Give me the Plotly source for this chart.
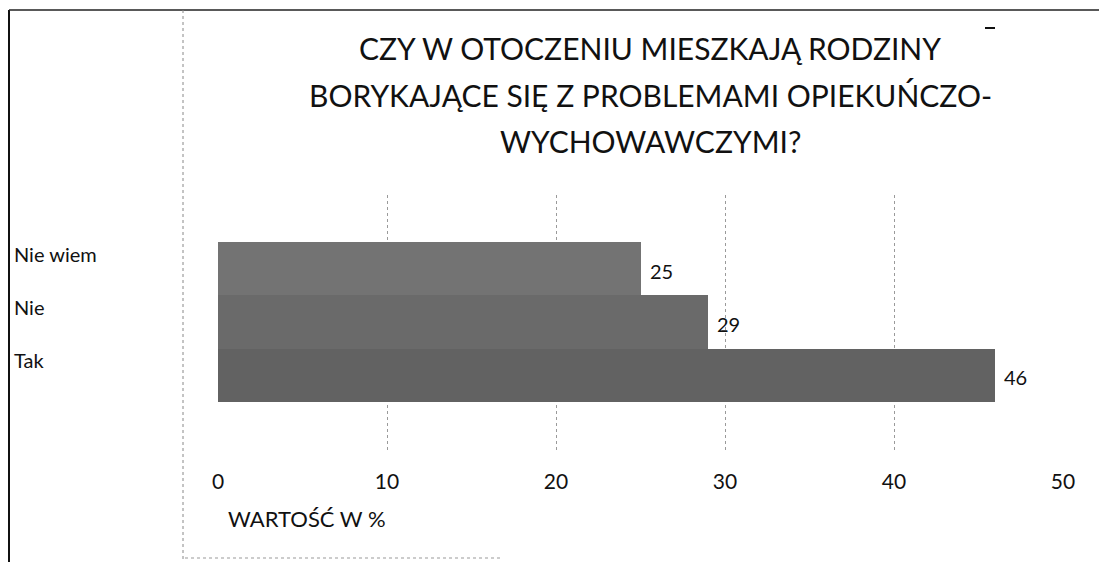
import plotly.graph_objects as go

# ---- data ----
categories = ["Nie wiem", "Nie", "Tak"]
values = [25, 29, 46]
bar_colors = ["#737373", "#6a6a6a", "#626262"]
x_ticks = [0, 10, 20, 30, 40, 50]
title_lines = [
    "CZY W OTOCZENIU MIESZKAJĄ RODZINY",
    "BORYKAJĄCE SIĘ Z PROBLEMAMI OPIEKUŃCZO-",
    "WYCHOWAWCZYMI?",
]
x_title = "WARTOŚĆ W %"

W, H = 1099, 562
L, R, T, B = 218, 1063, 195, 452
FONT = "Lato"


def px(xp):
    return (xp - L) / (R - L)


def py(yp):
    return (B - yp) / (B - T)


fig = go.Figure(
    go.Bar(
        x=values,
        y=categories,
        orientation="h",
        marker=dict(color=bar_colors, line=dict(width=0)),
        hoverinfo="x+y",
    )
)

annotations = []
title_y = [48, 95, 141]
for line, yy in zip(title_lines, title_y):
    annotations.append(dict(
        text=line, xref="paper", yref="paper", x=px(650), y=py(yy),
        xanchor="center", yanchor="middle", showarrow=False,
        font=dict(family=FONT, size=30, color="#111111"),
    ))
for c in categories:
    annotations.append(dict(
        text=c, xref="paper", yref="y", x=px(12), y=c, yshift=15,
        xanchor="left", yanchor="middle", showarrow=False,
        font=dict(family=FONT, size=20, color="#111111"),
    ))
for c, v in zip(categories, values):
    annotations.append(dict(
        text=str(v), xref="x", yref="y", x=v, y=c, xshift=7, yshift=-2,
        xanchor="left", yanchor="middle", showarrow=False,
        font=dict(family=FONT, size=20, color="#111111"),
    ))
annotations.append(dict(
    text=x_title, xref="paper", yref="paper", x=px(226), y=py(518),
    xanchor="left", yanchor="middle", showarrow=False,
    font=dict(family=FONT, size=22, color="#111111"),
))

shapes = [
    dict(type="line", xref="paper", yref="paper", x0=px(9), x1=px(9),
         y0=py(10), y1=py(562), line=dict(color="#111111", width=2)),
    dict(type="line", xref="paper", yref="paper", x0=px(9), x1=px(1099),
         y0=py(10), y1=py(10), line=dict(color="#222222", width=1.5)),
    dict(type="line", xref="paper", yref="paper", x0=px(183), x1=px(183),
         y0=py(10), y1=py(562), line=dict(color="#888888", width=1, dash="dot")),
    dict(type="line", xref="paper", yref="paper", x0=px(185), x1=px(500),
         y0=py(558), y1=py(558), line=dict(color="#999999", width=1, dash="dot")),
    dict(type="line", xref="paper", yref="paper", x0=px(985), x1=px(995),
         y0=py(28), y1=py(28), line=dict(color="#111111", width=2)),
]

fig.update_layout(
    width=W, height=H, autosize=False,
    margin=dict(l=L, r=W - R, t=T, b=H - B, pad=0),
    paper_bgcolor="white", plot_bgcolor="white",
    showlegend=False, bargap=0,
    font=dict(family=FONT, color="#111111"),
    annotations=annotations, shapes=shapes,
    xaxis=dict(
        range=[0, 50], tickvals=x_ticks, ticktext=[str(t) for t in x_ticks],
        showgrid=True, gridcolor="#9a9a9a", gridwidth=1, griddash="dot",
        zeroline=False, showline=False, ticks="",
        tickfont=dict(family=FONT, size=21, color="#111111"),
        ticklabelstandoff=15,
    ),
    yaxis=dict(
        type="category", categoryorder="array",
        categoryarray=["Tak", "Nie", "Nie wiem"],
        range=[-1.438, 3.381], showticklabels=False, showgrid=False,
        zeroline=False, showline=False, ticks="",
    ),
)

fig.write_html(
    "out.html",
    config={"displayModeBar": False},
    post_script="document.body.style.margin='0';document.body.style.overflow='hidden';",
)
